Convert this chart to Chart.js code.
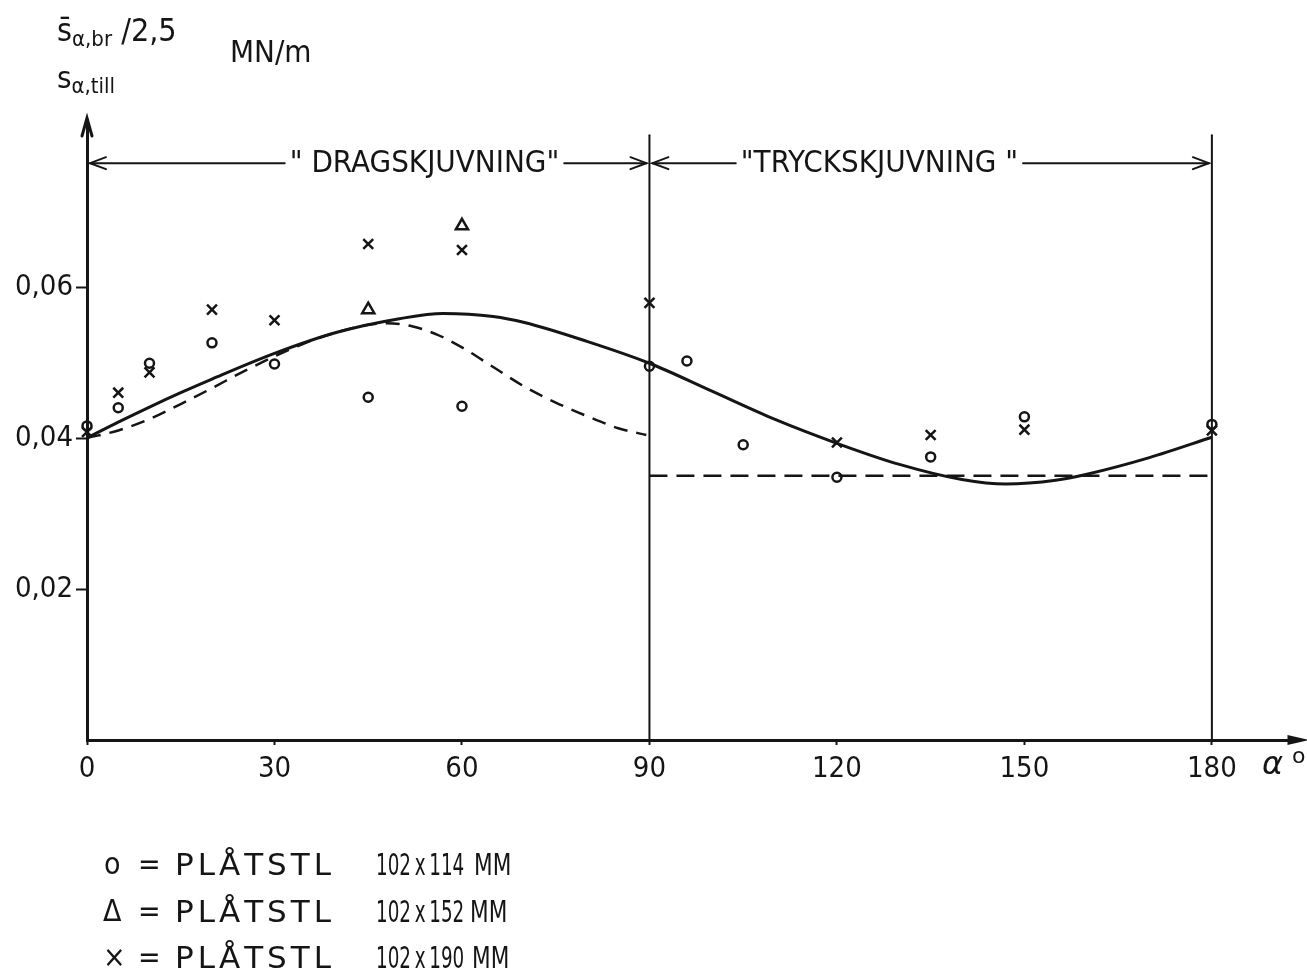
<!DOCTYPE html>
<html lang="sv">
<head>
    <meta charset="UTF-8">
    <title>Skjuvhållfasthet – plåtstål</title>
    <script src="https://cdn.jsdelivr.net/npm/chart.js"></script>
    <style>
        body {
            margin: 0;
            padding: 0;
            background: #ffffff;
            color: #151515;
            font-family: 'DejaVu Sans Condensed', 'DejaVu Sans', sans-serif;
        }

        .page {
            position: relative;
            width: 1307px;
            height: 976px;
            overflow: hidden;
        }

        canvas {
            position: absolute;
            left: 0;
            top: 0;
        }

        .txt {
            position: absolute;
            white-space: nowrap;
            line-height: 1;
        }

        .hdr { font-size: 32px; }
        .hdr sub { font-size: 22px; vertical-align: -5px; }

        .legend .part {
            position: absolute;
            white-space: nowrap;
            line-height: 1;
            font-size: 30px;
            transform: translateY(-50%);
        }
        .legend .name { font-family: 'DejaVu Sans', sans-serif; font-size: 31px; letter-spacing: 4px; }
        .legend .num { font-size: 30px; transform: translateY(-50%) scaleX(0.68); transform-origin: left center; }
        .legend .mm { font-size: 30px; transform: translateY(-50%) scaleX(0.8); transform-origin: left center; }
    </style>
</head>
<body>
<div class="page">
    <canvas id="shearChart" width="1307" height="976"></canvas>

    <!-- y-axis heading -->
    <div class="txt hdr" style="left:57px; top:14px;">s̄<sub>α,br</sub> /2,5</div>
    <div class="txt hdr" style="left:57px; top:62px; font-size:31px;">s<sub>α,till</sub></div>
    <div class="txt hdr" style="left:230px; top:36px; font-size:31px;">MN/m</div>

    <!-- legend -->
    <div class="legend">
        <span class="part" style="left:104px; top:864px;">o</span>
        <span class="part" style="left:138px; top:864px;">=</span>
        <span class="part name" style="left:175px; top:864px;">PLÅTSTL</span>
        <span class="part num" style="left:376px; top:865px;">102&#8201;x&#8201;114</span>
        <span class="part mm" style="left:474px; top:865px;">MM</span>

        <span class="part" style="left:103px; top:911px;">Δ</span>
        <span class="part" style="left:138px; top:911px;">=</span>
        <span class="part name" style="left:175px; top:911px;">PLÅTSTL</span>
        <span class="part num" style="left:376px; top:912px;">102&#8201;x&#8201;152</span>
        <span class="part mm" style="left:470px; top:912px;">MM</span>

        <span class="part" style="left:103px; top:957px;">×</span>
        <span class="part" style="left:138px; top:957px;">=</span>
        <span class="part name" style="left:175px; top:957px;">PLÅTSTL</span>
        <span class="part num" style="left:376px; top:958px;">102&#8201;x&#8201;190</span>
        <span class="part mm" style="left:472px; top:958px;">MM</span>
    </div>
</div>

<script>
    // tick labels
    const xTicks = [0, 30, 60, 90, 120, 150, 180];
    const yTicks = [0.02, 0.04, 0.06];

    // measured points, PLÅTSTL 102 x 114 (circles)
    const circleAngle = [0, 5, 10, 20, 30, 45, 60, 90, 96, 105, 120, 135, 150, 180];
    const circleValue = [0.0416, 0.0440, 0.0499, 0.0526, 0.0498, 0.0454, 0.0442, 0.0495, 0.0502, 0.0391, 0.0348, 0.0375, 0.0428, 0.0418];

    // PLÅTSTL 102 x 152 (triangles)
    const triAngle = [45, 60];
    const triValue = [0.0570, 0.0681];

    // PLÅTSTL 102 x 190 (crosses)
    const crossAngle = [0, 5, 10, 20, 30, 45, 60, 90, 120, 135, 150, 180];
    const crossValue = [0.0408, 0.0460, 0.0487, 0.0570, 0.0556, 0.0657, 0.0649, 0.0579, 0.0394, 0.0404, 0.0411, 0.0410];

    // full curve
    const solidAngle = [0, 5, 10, 15, 20, 30, 40, 50, 57, 65, 70, 80, 90, 100, 110, 120, 130, 140, 147, 155, 160, 170, 180];
    const solidValue = [0.0400, 0.0421, 0.0441, 0.0460, 0.0478, 0.0512, 0.0540, 0.0558, 0.0565, 0.0561, 0.0553, 0.0528, 0.0499, 0.0462, 0.0425, 0.0393, 0.0365, 0.0345, 0.0339, 0.0344, 0.0352, 0.0374, 0.0401];

    // dashed curve, tension side
    const dashAngle = [0, 5, 10, 15, 20, 25, 30, 35, 40, 45, 48, 52, 56, 60, 65, 70, 75, 80, 85, 89.5];
    const dashValue = [0.0400, 0.0410, 0.0425, 0.0445, 0.0466, 0.0488, 0.0508, 0.0526, 0.0540, 0.0550, 0.0552, 0.0548, 0.0537, 0.0520, 0.0494, 0.0468, 0.0447, 0.0429, 0.0413, 0.0404];

    // dashed level, compression side
    const flatAngle = [90, 180];
    const flatValue = [0.0350, 0.0350];

    const ink = '#151515';
    const pts = (xs, ys) => xs.map((x, i) => ({ x: x, y: ys[i] }));
    const comma = v => v.toFixed(2).replace('.', ',');

    // axes arrows, section lines and the two range markers
    const decor = {
        id: 'decor',
        afterDraw(chart) {
            const ctx = chart.ctx;
            const xs = chart.scales.x, ys = chart.scales.y;
            const a = chart.chartArea;
            const x0 = xs.getPixelForValue(0);
            const y0 = ys.getPixelForValue(0);

            ctx.save();
            ctx.strokeStyle = ink;
            ctx.fillStyle = ink;
            ctx.lineCap = 'round';

            // y arrow
            ctx.lineWidth = 3;
            ctx.beginPath();
            ctx.moveTo(x0 - 5, a.top + 16);
            ctx.lineTo(x0, a.top - 2);
            ctx.lineTo(x0 + 5, a.top + 16);
            ctx.stroke();

            // x arrow
            ctx.beginPath();
            ctx.moveTo(a.right + 12, y0);
            ctx.lineTo(a.right - 10, y0 - 5);
            ctx.lineTo(a.right - 10, y0 + 5);
            ctx.closePath();
            ctx.fill();

            // section lines at 90 and 180
            const topY = ys.getPixelForValue(0.0801);
            ctx.lineWidth = 2;
            [90, 180].forEach(v => {
                const px = xs.getPixelForValue(v);
                ctx.beginPath();
                ctx.moveTo(px, y0);
                ctx.lineTo(px, topY);
                ctx.stroke();
            });

            // range markers
            const bandY = ys.getPixelForValue(0.0764);
            ctx.font = "31px 'DejaVu Sans Condensed', 'DejaVu Sans', sans-serif";
            ctx.textBaseline = 'middle';
            ctx.textAlign = 'left';

            const head = (px, dir) => {
                ctx.beginPath();
                ctx.moveTo(px + dir * 16, bandY - 6);
                ctx.lineTo(px, bandY);
                ctx.lineTo(px + dir * 16, bandY + 6);
                ctx.stroke();
            };
            const range = (from, to, label, mid) => {
                const l = xs.getPixelForValue(from) + 3;
                const r = xs.getPixelForValue(to) - 3;
                const w = ctx.measureText(label).width;
                const c = xs.getPixelForValue(mid);
                const t0 = c - w / 2, t1 = c + w / 2;
                ctx.lineWidth = 2;
                ctx.beginPath();
                ctx.moveTo(l, bandY);
                ctx.lineTo(t0 - 5, bandY);
                ctx.moveTo(t1 + 5, bandY);
                ctx.lineTo(r, bandY);
                ctx.stroke();
                head(l, 1);
                head(r, -1);
                ctx.fillText(label, t0, bandY + 1);
            };
            range(0, 90, '" DRAGSKJUVNING"', 54.0);
            range(90, 180, '"TRYCKSKJUVNING "', 126.8);

            // axis name
            ctx.font = "italic 32px 'DejaVu Sans', sans-serif";
            ctx.textBaseline = 'top';
            ctx.fillText('α', 1262, 750);
            ctx.font = "22px 'DejaVu Sans', sans-serif";
            ctx.fillText('o', 1292, 746);
            ctx.restore();
        }
    };

    const ctx = document.getElementById('shearChart').getContext('2d');
    new Chart(ctx, {
        type: 'scatter',
        data: {
            datasets: [
                {
                    label: 'o = PLÅTSTL 102 x 114 MM',
                    data: pts(circleAngle, circleValue),
                    pointStyle: 'circle',
                    pointRadius: 4.5,
                    borderColor: ink,
                    backgroundColor: 'rgba(0,0,0,0)',
                    borderWidth: 2.5,
                    clip: false
                },
                {
                    label: 'Δ = PLÅTSTL 102 x 152 MM',
                    data: pts(triAngle, triValue),
                    pointStyle: 'triangle',
                    pointRadius: 7,
                    borderColor: ink,
                    backgroundColor: 'rgba(0,0,0,0)',
                    borderWidth: 2.5,
                    clip: false
                },
                {
                    label: '× = PLÅTSTL 102 x 190 MM',
                    data: pts(crossAngle, crossValue),
                    pointStyle: 'crossRot',
                    pointRadius: 7,
                    borderColor: ink,
                    borderWidth: 2.5,
                    clip: false
                },
                {
                    label: 'kurva',
                    data: pts(solidAngle, solidValue),
                    showLine: true,
                    cubicInterpolationMode: 'monotone',
                    pointRadius: 0,
                    borderColor: ink,
                    borderWidth: 3
                },
                {
                    label: 'dragskjuvning',
                    data: pts(dashAngle, dashValue),
                    showLine: true,
                    cubicInterpolationMode: 'monotone',
                    pointRadius: 0,
                    borderColor: ink,
                    borderWidth: 2.5,
                    borderDash: [14, 9]
                },
                {
                    label: 'tryckskjuvning',
                    data: pts(flatAngle, flatValue),
                    showLine: true,
                    pointRadius: 0,
                    borderColor: ink,
                    borderWidth: 2.5,
                    borderDash: [18, 9]
                }
            ]
        },
        options: {
            responsive: false,
            devicePixelRatio: 1,
            animation: false,
            layout: { padding: { top: 120, right: 7, bottom: 0, left: 0 } },
            plugins: {
                legend: { display: false },
                tooltip: { enabled: false }
            },
            scales: {
                x: {
                    type: 'linear',
                    min: 0,
                    max: 193.7,
                    afterFit: s => { s.height = 236; },
                    afterBuildTicks: s => { s.ticks = xTicks.map(v => ({ value: v })); },
                    border: { display: true, color: ink, width: 3 },
                    grid: { drawOnChartArea: false, drawTicks: true, tickLength: 5, tickColor: ink, tickWidth: 2 },
                    ticks: {
                        padding: 7,
                        color: ink,
                        maxRotation: 0,
                        font: { family: "'DejaVu Sans Condensed', sans-serif", size: 29 }
                    }
                },
                y: {
                    type: 'linear',
                    min: 0,
                    max: 0.08212,
                    afterFit: s => { s.width = 87; },
                    afterBuildTicks: s => { s.ticks = yTicks.map(v => ({ value: v })); },
                    border: { display: true, color: ink, width: 3 },
                    grid: { drawOnChartArea: false, drawTicks: true, tickLength: 11, tickColor: ink, tickWidth: 2 },
                    ticks: {
                        padding: 3,
                        color: ink,
                        callback: v => comma(v),
                        font: { family: "'DejaVu Sans Condensed', sans-serif", size: 29 }
                    }
                }
            }
        },
        plugins: [decor]
    });
</script>
</body>
</html>
